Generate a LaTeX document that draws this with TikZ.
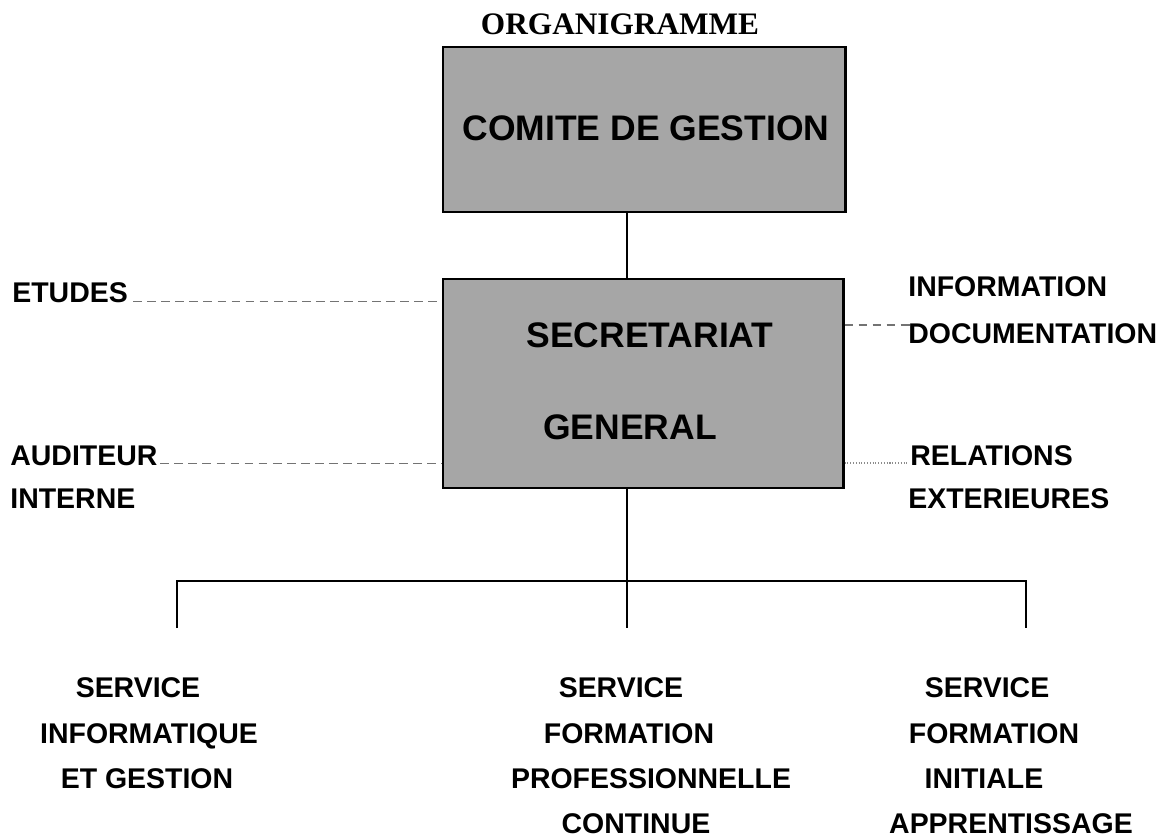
\documentclass[tikz,border=0pt]{standalone}
\usepackage{fontspec}
\setmainfont{Liberation Serif}
\setsansfont{Liberation Sans}
\usetikzlibrary{calc}

\begin{document}
\begin{tikzpicture}[
		box/.style={draw=black, line width=1.7pt, fill=black!35, inner sep=0pt},
		boxtext/.style={inner sep=0pt, font=\sffamily\bfseries\fontsize{20.2}{24}\selectfont},
		lbl/.style={inner sep=0pt, font=\sffamily\bfseries\fontsize{16.2}{19}\selectfont},
		link/.style={line width=1.3pt},
		staff/.style={line width=0.6pt, color=black!55, dash pattern=on 5pt off 3pt}
	]
			%%%%% START %%%%%
			\useasboundingbox (0, 0) rectangle (23.32, 16.76);
			
			\node[inner sep=0pt, anchor=base, font=\bfseries\fontsize{17.8}{21}\selectfont] (titre) at (12.4, 16.06) {ORGANIGRAMME};
			
			% boites
			\node[box, minimum width=8.04cm, minimum height=3.3cm] (cg) at (12.88, 14.17) {};
			\node[boxtext] (cgtext) at (12.92, 14.2) {COMITE DE GESTION};
			
			\node[box, minimum width=8cm, minimum height=4.18cm] (sg) at (12.86, 9.09) {};
			\node[boxtext] (sec) at (13.0, 10.06) {SECRETARIAT};
			\node[boxtext] (gen) at (12.6, 8.22) {GENERAL};
			
			\coordinate (axe) at (12.54, 0);
			\draw[link] (cg.south -| axe) -- (sg.north -| axe);
			
			% conseillers
			\node[lbl, anchor=base west] (etudes) at (0.24, 10.7) {ETUDES};
			\node[lbl, anchor=base west] (aud) at (0.2, 7.46) {AUDITEUR};
			\node[lbl, anchor=base west] (aud2) at (0.2, 6.6) {INTERNE};
			\node[lbl, anchor=base west] (info) at (18.16, 10.82) {INFORMATION};
			\node[lbl, anchor=base west] (info2) at (18.16, 9.9) {DOCUMENTATION};
			\node[lbl, anchor=base west] (rel) at (18.2, 7.46) {RELATIONS};
			\node[lbl, anchor=base west] (rel2) at (18.16, 6.6) {EXTERIEURES};
			
			\coordinate (infoend) at (18.2, 10.26);
			\draw[staff] ([xshift=0.1cm, yshift=0.03cm]etudes.base east) -- ([yshift=0.03cm]etudes.base -| sg.west);
			\draw[staff] ([xshift=0.05cm, yshift=0.03cm]aud.base east) -- ([yshift=0.03cm]aud.base -| sg.west);
			\draw[staff] (sg.east |- infoend) -- (infoend);
			\draw[line width=0.6pt, color=black!45, densely dotted] ([yshift=0.04cm]rel.base -| sg.east) -- ([xshift=-0.05cm, yshift=0.04cm]rel.base west);
			
			% services
			\coordinate (busL) at (3.54, 5.14);
			\coordinate (busM) at (12.54, 5.14);
			\coordinate (busR) at (20.52, 5.14);
			\coordinate (dropL) at (3.54, 4.2);
			\coordinate (dropM) at (12.54, 4.2);
			\coordinate (dropR) at (20.52, 4.2);
			
			\draw[link] (sg.south -| busM) -- (busM);
			\draw[link] (dropL) -- (busL) -- (busR) -- (dropR);
			\draw[link] (busM) -- (dropM);
			
			\node[lbl, anchor=base] (s1a) at (2.76, 2.82) {SERVICE};
			\node[lbl, anchor=base] (s1b) at (2.98, 1.9) {INFORMATIQUE};
			\node[lbl, anchor=base] (s1c) at (2.94, 1.0) {ET GESTION};
			
			\node[lbl, anchor=base] (s2a) at (12.42, 2.82) {SERVICE};
			\node[lbl, anchor=base] (s2b) at (12.58, 1.9) {FORMATION};
			\node[lbl, anchor=base] (s2c) at (13.02, 1.0) {PROFESSIONNELLE};
			\node[lbl, anchor=base] (s2d) at (12.72, 0.1) {CONTINUE};
			
			\node[lbl, anchor=base] (s3a) at (19.74, 2.82) {SERVICE};
			\node[lbl, anchor=base] (s3b) at (19.88, 1.9) {FORMATION};
			\node[lbl, anchor=base] (s3c) at (19.68, 1.0) {INITIALE};
			\node[lbl, anchor=base] (s3d) at (20.22, 0.1) {APPRENTISSAGE};
			%%%%% END %%%%%
\end{tikzpicture}
\end{document}
